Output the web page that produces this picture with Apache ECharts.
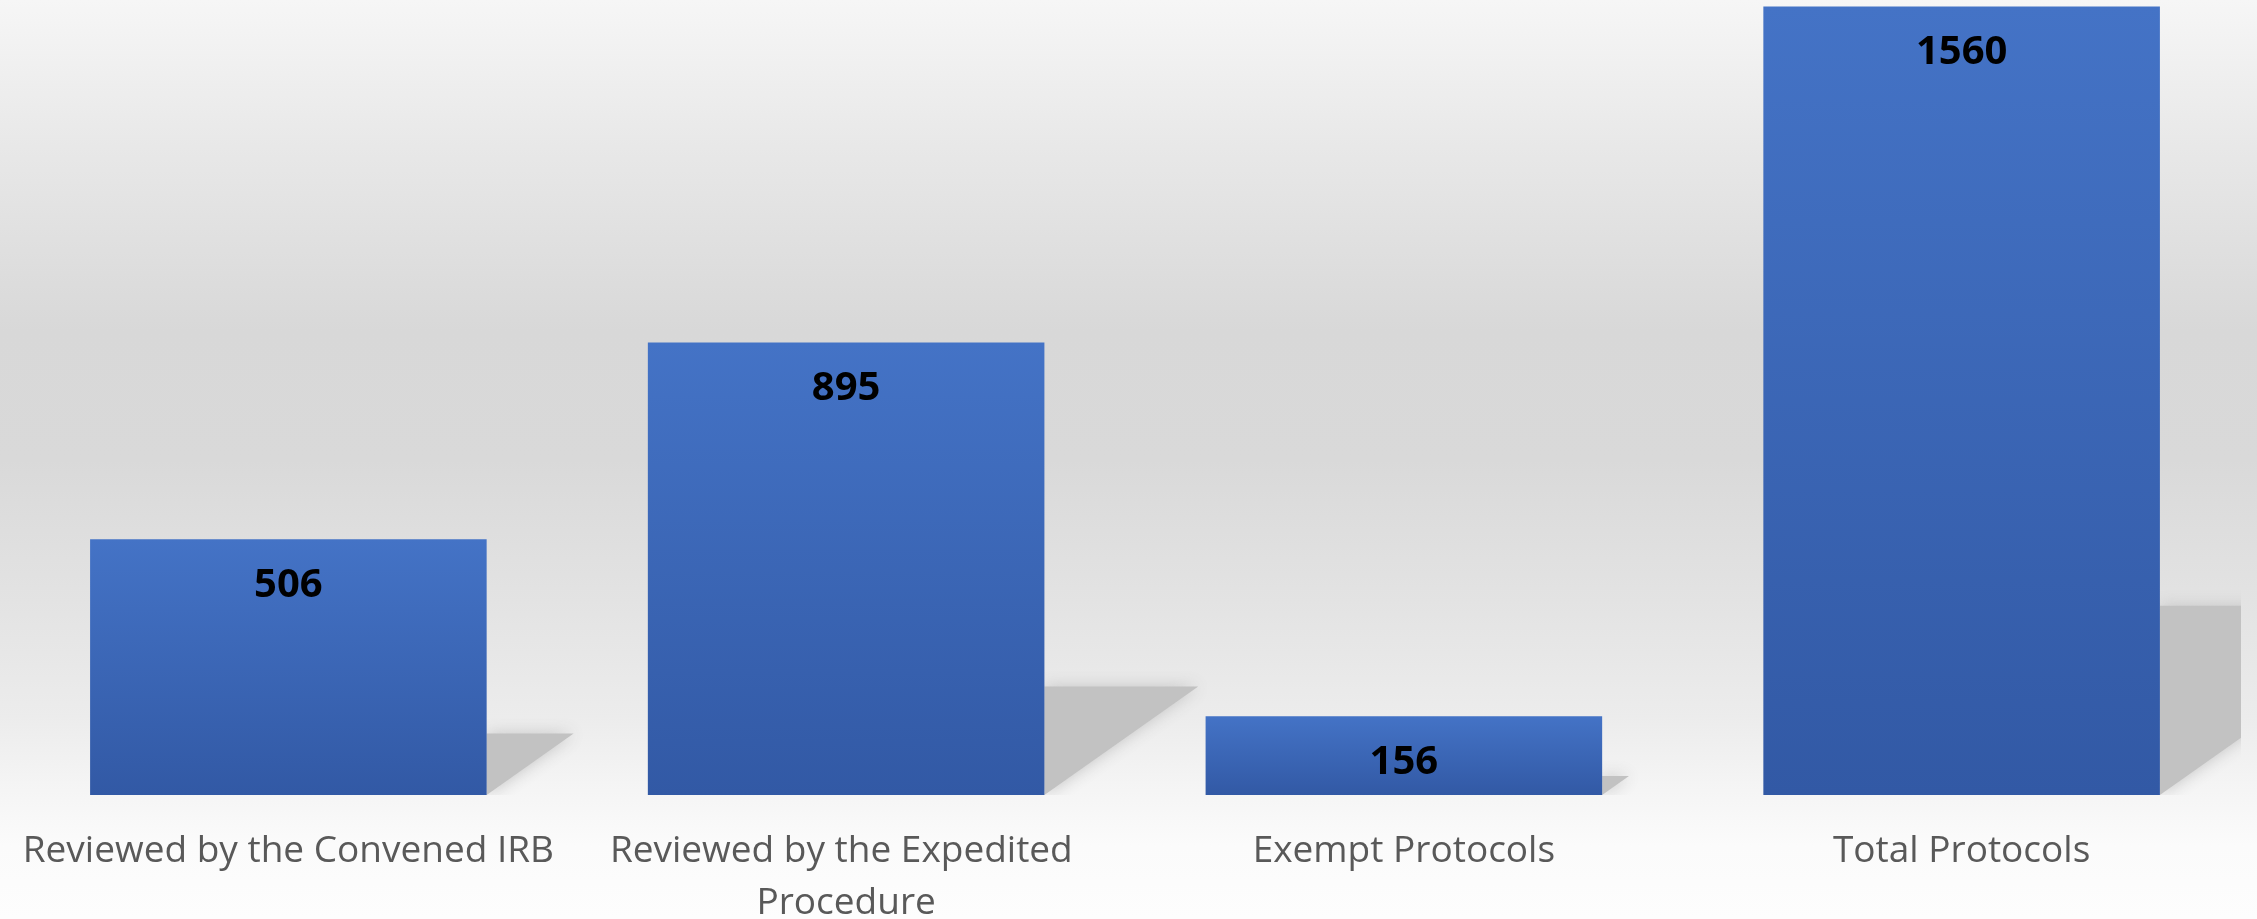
<!DOCTYPE html>
<html>
<head>
<meta charset="utf-8">
<title>Protocols</title>
<script src="https://cdn.jsdelivr.net/npm/echarts@6/dist/echarts.min.js"></script>
<style>
  html, body { margin: 0; padding: 0; }
  #chart {
    width: 2257px;
    height: 919px;
    background: linear-gradient(to bottom,
      #f6f6f6 0%, #e8e8e8 16%, #d8d8d8 36%, #d9d9d9 50%,
      #e2e2e2 64%, #ececec 78%, #f5f5f5 86%, #fbfbfb 92%, #fdfdfd 100%);
  }
</style>
</head>
<body>
<div id="chart"></div>
<script>
// data
const categories = [
  'Reviewed by the Convened IRB',
  'Reviewed by the Expedited Procedure',
  'Exempt Protocols',
  'Total Protocols'
];
const protocolCounts = [506, 895, 156, 1560];

const BAR_RATIO = 0.711;

// soft shadow cast to the right of each bar
function renderShadow(params, api) {
  const top = api.coord([api.value(0), api.value(1)]);
  const base = api.coord([api.value(0), 0]);
  const barW = api.size([1, 0])[0] * BAR_RATIO;
  const right = base[0] + barW / 2;
  const h = base[1] - top[1];
  const sy = base[1] - h * 0.24;
  return {
    type: 'polygon',
    shape: { points: [[right, sy], [right + h * 0.34, sy], [right, base[1]]] },
    style: { fill: '#c2c2c2', shadowBlur: 16, shadowColor: '#c4c4c4' }
  };
}

const chart = echarts.init(document.getElementById('chart'));
chart.setOption({
  backgroundColor: 'transparent',
  animation: false,
  grid: {
    left: 9.5, right: 16.5, top: 6.4, bottom: 124,
    containLabel: false,
    outerBoundsMode: 'none'
  },
  xAxis: {
    type: 'category',
    data: categories,
    axisLine: { show: false },
    axisTick: { show: false },
    axisLabel: {
      interval: 0,
      margin: 30,
      color: '#595959',
      fontFamily: 'Open Sans',
      fontSize: 37,
      lineHeight: 52,
      width: 540,
      overflow: 'break'
    }
  },
  yAxis: {
    type: 'value',
    min: 0,
    max: 1560,
    show: false,
    splitLine: { show: false }
  },
  series: [
    {
      type: 'custom',
      z: 1,
      clip: true,
      renderItem: renderShadow,
      encode: { x: 0, y: 1 },
      data: protocolCounts.map((v, i) => [i, v]),
      silent: true
    },
    {
      type: 'bar',
      z: 2,
      data: protocolCounts,
      barWidth: (BAR_RATIO * 100) + '%',
      itemStyle: {
        color: new echarts.graphic.LinearGradient(0, 0, 0, 1, [
          { offset: 0, color: '#4473c6' },
          { offset: 1, color: '#3259a5' }
        ])
      },
      label: {
        show: true,
        position: 'insideTop',
        distance: 26,
        color: '#000',
        fontFamily: 'Open Sans',
        fontWeight: 'bold',
        fontSize: 40,
        lineHeight: 40
      }
    }
  ]
});
</script>
</body>
</html>
